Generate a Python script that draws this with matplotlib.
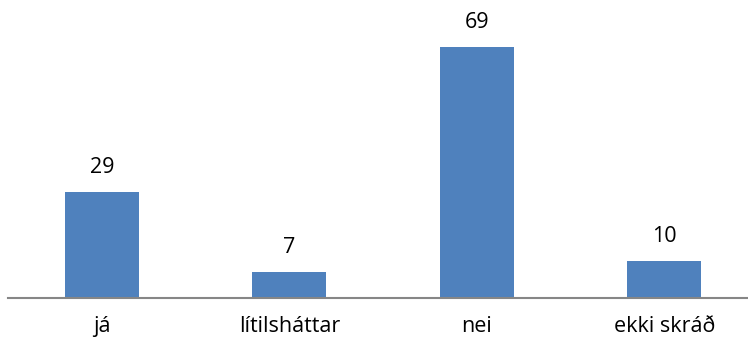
import matplotlib
matplotlib.use("Agg")
import matplotlib.pyplot as plt

categories = ["já", "lítilsháttar", "nei", "ekki skráð"]
values = [29, 7, 69, 10]

plt.rcParams['font.family'] = ['Open Sans', 'DejaVu Sans']

fig = plt.figure(figsize=(7.48, 3.47), dpi=100)
W, H = 748, 347
# axes in pixel coordinates: left 8.3, right 758, bottom y=297, top y=7
ax = fig.add_axes([8.3 / W, (H - 297.5) / H, 749.6 / W, 290 / H])

x = range(len(categories))
bars = ax.bar(x, values, width=0.395, color="#4F81BD")
ax.set_xlim(-0.5, len(categories) - 0.5)
ax.set_ylim(0, 80)

for xi, v in zip(x, values):
    ax.annotate(str(v), (xi, v), xytext=(0, 10.5), textcoords="offset points",
                ha="center", va="bottom", fontsize=15.5, color="black")

ax.set_xticks(list(x))
ax.set_xticklabels(categories, fontsize=15.5)
ax.tick_params(axis="x", length=0, pad=13)
ax.set_yticks([])
for side in ["top", "right", "left"]:
    ax.spines[side].set_visible(False)
ax.spines["bottom"].set_color("#868686")
ax.spines["bottom"].set_linewidth(1.5)

fig.savefig("out.png", dpi=100)
